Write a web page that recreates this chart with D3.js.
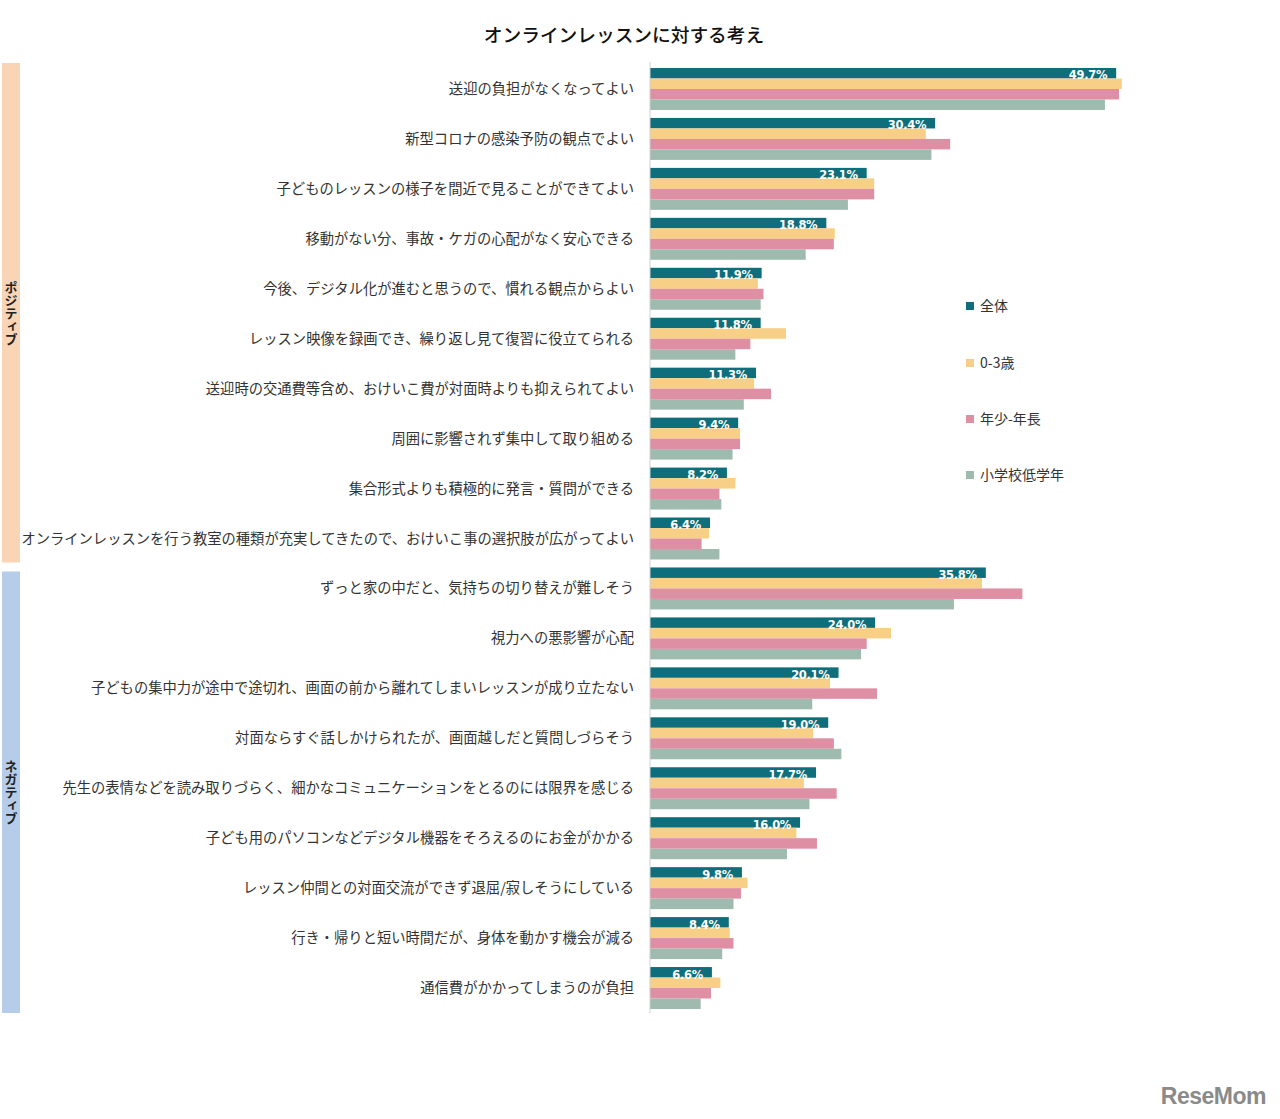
<!DOCTYPE html>
<html>
<head>
<meta charset="utf-8">
<script src="https://cdn.jsdelivr.net/npm/d3@7"></script>
<style>
  html, body { margin: 0; padding: 0; background: #ffffff; }
  svg { display: block; font-family: "Noto Sans CJK JP", "Noto Sans", sans-serif; }
</style>
</head>
<body>
<svg id="chart" width="1280" height="1119"></svg>
<script>
const title = "オンラインレッスンに対する考え";
const categories = [
  "送迎の負担がなくなってよい",
  "新型コロナの感染予防の観点でよい",
  "子どものレッスンの様子を間近で見ることができてよい",
  "移動がない分、事故・ケガの心配がなく安心できる",
  "今後、デジタル化が進むと思うので、慣れる観点からよい",
  "レッスン映像を録画でき、繰り返し見て復習に役立てられる",
  "送迎時の交通費等含め、おけいこ費が対面時よりも抑えられてよい",
  "周囲に影響されず集中して取り組める",
  "集合形式よりも積極的に発言・質問ができる",
  "オンラインレッスンを行う教室の種類が充実してきたので、おけいこ事の選択肢が広がってよい",
  "ずっと家の中だと、気持ちの切り替えが難しそう",
  "視力への悪影響が心配",
  "子どもの集中力が途中で途切れ、画面の前から離れてしまいレッスンが成り立たない",
  "対面ならすぐ話しかけられたが、画面越しだと質問しづらそう",
  "先生の表情などを読み取りづらく、細かなコミュニケーションをとるのには限界を感じる",
  "子ども用のパソコンなどデジタル機器をそろえるのにお金がかかる",
  "レッスン仲間との対面交流ができず退屈/寂しそうにしている",
  "行き・帰りと短い時間だが、身体を動かす機会が減る",
  "通信費がかかってしまうのが負担"
];
const seriesNames = ["全体", "0-3歳", "年少-年長", "小学校低学年"];
const zentai   = [49.7, 30.4, 23.1, 18.8, 11.9, 11.8, 11.3, 9.4, 8.2, 6.4, 35.8, 24.0, 20.1, 19.0, 17.7, 16.0, 9.8, 8.4, 6.6];
const age0to3  = [50.3, 29.4, 23.9, 19.7, 11.5, 14.5, 11.1, 9.6, 9.1, 6.3, 35.4, 25.7, 19.2, 17.4, 16.4, 15.6, 10.4, 8.5, 7.5];
const nencho   = [50.0, 32.0, 23.9, 19.6, 12.1, 10.7, 12.9, 9.6, 7.4, 5.5, 39.7, 23.1, 24.2, 19.6, 19.9, 17.8, 9.7, 8.9, 6.5];
const shogaku  = [48.5, 30.0, 21.1, 16.6, 11.8, 9.1, 10.0, 8.8, 7.6, 7.4, 32.4, 22.5, 17.3, 20.4, 17.0, 14.6, 8.9, 7.7, 5.4];
const groups = [
  { name: "ポジティブ", from: 0, to: 9 },
  { name: "ネガティブ", from: 10, to: 18 }
];
const colors = ["#0f6e7b", "#f8cf86", "#df8fa4", "#9fbbaf"];

const seriesValues = [zentai, age0to3, nencho, shogaku];
const svg = d3.select("#chart");

const x0 = 650;
const x = d3.scaleLinear().domain([0, 50]).range([x0, x0 + 50 * 9.38]);
const y = d3.scaleBand().domain(d3.range(categories.length)).range([64, 1013]).paddingInner(0.16).paddingOuter(0.08);
const ySub = d3.scaleBand().domain(d3.range(seriesNames.length)).range([0, y.bandwidth()]).padding(0);

// title
svg.append("text")
  .attr("x", 624).attr("y", 42)
  .attr("text-anchor", "middle")
  .attr("font-size", 18.7).attr("font-weight", 500)
  .attr("fill", "#111")
  .text(title);

// group bands
groups.forEach((g, i) => {
  const top = i === 0 ? y(g.from) - 5 : y(g.from) + 4;
  const bottom = i === 0 ? y(g.to) + y.bandwidth() + 3 : y(g.to) + y.bandwidth() + 4;
  svg.append("rect")
    .attr("x", 2).attr("y", top).attr("width", 18).attr("height", bottom - top)
    .attr("fill", i === 0 ? "#f9d4b5" : "#b5cde9");
  svg.append("text")
    .attr("x", 11).attr("y", (top + bottom) / 2)
    .attr("writing-mode", "vertical-rl")
    .attr("text-anchor", "middle")
    .attr("font-size", 13).attr("font-weight", 700)
    .attr("fill", "#222")
    .text(g.name);
});

// bars
const barG = svg.append("g");
categories.forEach((c, i) => {
  seriesValues.forEach((vals, s) => {
    barG.append("rect")
      .attr("x", x(0))
      .attr("y", y(i) + ySub(s))
      .attr("width", x(vals[i]) - x(0))
      .attr("height", ySub.bandwidth())
      .attr("fill", colors[s]);
  });
  // value label for 全体
  svg.append("text")
    .attr("x", x(zentai[i]) - 9)
    .attr("y", y(i) + ySub(0) + ySub.bandwidth() + 1)
    .attr("text-anchor", "end")
    .attr("font-family", "'DejaVu Sans', sans-serif")
    .attr("font-size", 11.5).attr("font-weight", 700)
    .attr("letter-spacing", "-0.3")
    .attr("fill", "#ffffff")
    .text(zentai[i].toFixed(1) + "%");
  // category label
  svg.append("text")
    .attr("x", 634)
    .attr("y", y(i) + y.bandwidth() / 2)
    .attr("dy", "0.35em")
    .attr("text-anchor", "end")
    .attr("font-size", 14.3)
    .attr("fill", "#333")
    .text(c);
});

// axis line
const yAxis = d3.axisLeft(y).tickSize(0).tickFormat("");
svg.append("g")
  .attr("transform", `translate(${x0},0)`)
  .call(yAxis)
  .call(g => g.select(".domain").attr("stroke", "#d0d0d0").attr("d", `M0,62V1013`));

// legend
const legendY = [306, 363, 419, 475];
seriesNames.forEach((n, s) => {
  svg.append("rect")
    .attr("x", 966).attr("y", legendY[s] - 4).attr("width", 8).attr("height", 8)
    .attr("fill", colors[s]);
  svg.append("text")
    .attr("x", 980).attr("y", legendY[s])
    .attr("dy", "0.35em")
    .attr("font-size", 14)
    .attr("fill", "#333")
    .text(n);
});

// watermark
svg.append("text")
  .attr("x", 1266).attr("y", 1104)
  .attr("text-anchor", "end")
  .attr("font-family", "'Liberation Sans', sans-serif")
  .attr("font-size", 23).attr("font-weight", 700)
  .attr("letter-spacing", "-0.5")
  .attr("fill", "#8a8a8a")
  .text("ReseMom");
</script>
</body>
</html>
